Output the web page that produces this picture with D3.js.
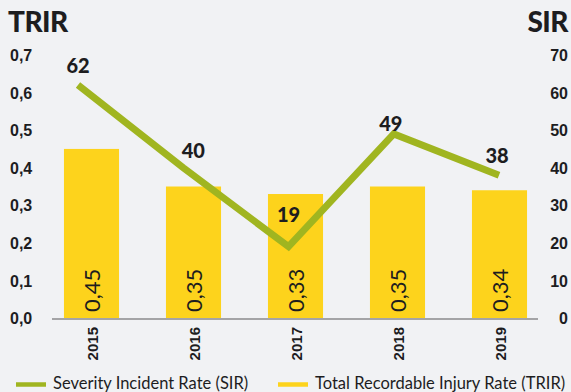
<!DOCTYPE html>
<html>
<head>
<meta charset="utf-8">
<script src="https://cdn.jsdelivr.net/npm/d3@7"></script>
<style>
  html, body { margin: 0; padding: 0; background: #f1f2f4; }
  svg { display: block; font-family: "Lato", "Noto Sans", sans-serif; }
</style>
</head>
<body>
<svg id="chart" width="571" height="392"></svg>
<script>
// Safety statistics per year
const years = ["2015", "2016", "2017", "2018", "2019"];
const trirValues = [0.45, 0.35, 0.33, 0.35, 0.34];   // Total Recordable Injury Rate (bars, left axis)
const sirValues = [62, 40, 19, 49, 38];              // Severity Incident Rate (line, right axis)
const trirTicks = [0, 0.1, 0.2, 0.3, 0.4, 0.5, 0.6, 0.7];
const sirTicks = [0, 10, 20, 30, 40, 50, 60, 70];
const legendLabels = ["Severity Incident Rate (SIR)", "Total Recordable Injury Rate (TRIR)"];

const yellow = "#fdd31c";
const green = "#a0b520";
const ink = "#1d1d1f";
const comma = d3.formatLocale({ decimal: ",", thousands: ".", grouping: [3], currency: ["", ""] });
const fmt1 = comma.format(".1f");
const fmt2 = comma.format(".2f");

const svg = d3.select("#chart");

const x = d3.scaleBand().domain(years).range([40.5, 550.5]).paddingInner(0.46).paddingOuter(0.23);
const xLine = d3.scalePoint().domain(years).range([78, 499]);
const yL = d3.scaleLinear().domain([0, 0.7]).range([318, 55]);
const yR = d3.scaleLinear().domain([0, 70]).range([318, 55]);

// Axis titles
svg.append("text").attr("x", 8).attr("y", 32).text("TRIR")
  .attr("font-size", 28).attr("font-weight", 900).attr("letter-spacing", -0.5).attr("fill", ink);
svg.append("text").attr("x", 568).attr("y", 32).attr("text-anchor", "end").text("SIR")
  .attr("font-size", 28).attr("font-weight", 900).attr("letter-spacing", -0.5).attr("fill", ink);

// Left axis (TRIR)
const leftAxis = svg.append("g").attr("transform", "translate(10,0)")
  .call(d3.axisLeft(yL).tickValues(trirTicks).tickFormat(fmt1).tickSize(0).tickPadding(0));
leftAxis.select(".domain").remove();
leftAxis.selectAll("text").attr("text-anchor", "start").attr("dy", "0.35em")
  .attr("font-size", 16).attr("font-weight", 700).attr("fill", ink).attr("font-family", null);

// Right axis (SIR)
const rightAxis = svg.append("g").attr("transform", "translate(568,0)")
  .call(d3.axisRight(yR).tickValues(sirTicks).tickFormat(d3.format("d")).tickSize(0).tickPadding(0));
rightAxis.select(".domain").remove();
rightAxis.selectAll("text").attr("text-anchor", "end").attr("dy", "0.35em")
  .attr("font-size", 16).attr("font-weight", 700).attr("fill", ink).attr("font-family", null);

// Bars
const bars = svg.append("g");
bars.selectAll("rect").data(years).join("rect")
  .attr("x", d => x(d))
  .attr("y", (d, i) => yL(trirValues[i]))
  .attr("width", x.bandwidth())
  .attr("height", (d, i) => yL(0) - yL(trirValues[i]))
  .attr("fill", yellow);

// Bar value labels (rotated)
bars.selectAll("text").data(years).join("text")
  .attr("transform", d => `translate(${x(d) + x.bandwidth() / 2 + 8},312) rotate(-90)`)
  .attr("font-size", 22).attr("fill", ink)
  .text((d, i) => fmt2(trirValues[i]));

// Baseline
svg.append("line").attr("x1", 52).attr("x2", 538).attr("y1", 319).attr("y2", 319)
  .attr("stroke", "#8a8a8c").attr("stroke-width", 1.5);

// Year labels
const xAxis = svg.append("g").attr("transform", "translate(0,319)")
  .call(d3.axisBottom(x).tickSize(0).tickPadding(0));
xAxis.select(".domain").remove();
xAxis.selectAll("text")
  .attr("transform", "translate(6,8) rotate(-90)")
  .attr("text-anchor", "end").attr("dy", 0).attr("y", 0).attr("x", 0)
  .attr("font-size", 15).attr("font-weight", 700).attr("fill", ink).attr("font-family", null);

// SIR line
const line = d3.line().x(d => xLine(d.year)).y(d => yR(d.value));
const pts = years.map((y, i) => ({ year: y, value: sirValues[i] }));
svg.append("path").datum(pts).attr("d", line)
  .attr("fill", "none").attr("stroke", green).attr("stroke-width", 7)
  .attr("stroke-linejoin", "miter").attr("stroke-linecap", "butt");

// SIR value labels, nudged off the line
const nudge = { "2015": [0, -12], "2016": [10, -10], "2017": [0, -25], "2018": [-3, -3], "2019": [-2, -12] };
svg.append("g").selectAll("text").data(pts).join("text")
  .attr("x", d => xLine(d.year) + nudge[d.year][0])
  .attr("y", d => yR(d.value) + nudge[d.year][1])
  .attr("text-anchor", "middle").attr("font-size", 20).attr("font-weight", 900).attr("fill", ink)
  .text(d => d.value);

// Legend
const legend = svg.append("g");
legend.append("line").attr("x1", 16).attr("x2", 46).attr("y1", 384.5).attr("y2", 384.5)
  .attr("stroke", green).attr("stroke-width", 4.5);
legend.append("text").attr("x", 53).attr("y", 388.5).attr("font-size", 16.5).attr("fill", ink).text(legendLabels[0]);
legend.append("line").attr("x1", 278).attr("x2", 308).attr("y1", 384.5).attr("y2", 384.5)
  .attr("stroke", yellow).attr("stroke-width", 4.5);
legend.append("text").attr("x", 315).attr("y", 388.5).attr("font-size", 16.5).attr("fill", ink).text(legendLabels[1]);
</script>
</body>
</html>
